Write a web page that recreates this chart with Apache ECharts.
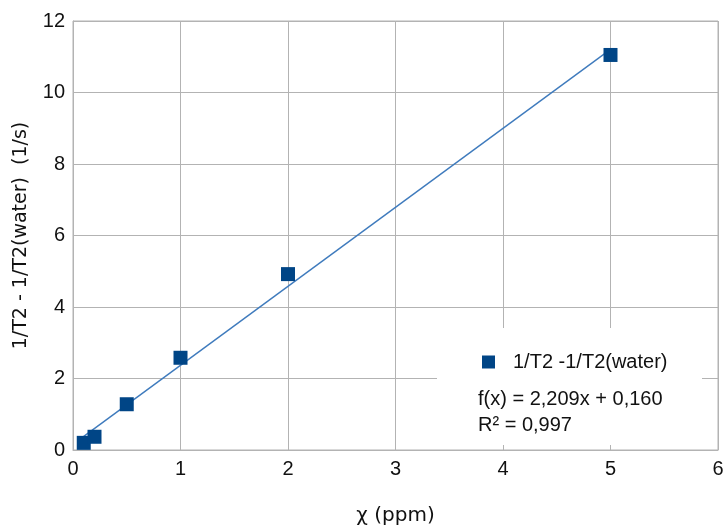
<!DOCTYPE html>
<html>
<head>
<meta charset="utf-8">
<script src="https://cdn.jsdelivr.net/npm/echarts@6/dist/echarts.min.js"></script>
<style>html,body{margin:0;padding:0;background:#fff}#c{width:726px;height:528px}</style>
</head>
<body>
<div id="c"></div>
<script>
const seriesName = '1/T2 -1/T2(water)';
const chiValues = [0.1, 0.2, 0.5, 1, 2, 5];
const rateValues = [0.2, 0.37, 1.28, 2.58, 4.92, 11.05];
const trendX = [0.1, 5];
const trendY = [0.381, 11.205];
const equationText = 'f(x) = 2,209x + 0,160';
const r2Text = 'R² = 0,997';
const xTicks = [0, 1, 2, 3, 4, 5, 6];
const yTicks = [0, 2, 4, 6, 8, 10, 12];

const FONT = '"Liberation Sans", Arial, sans-serif';
const NAMEFONT = '"DejaVu Sans", sans-serif';
const chart = echarts.init(document.getElementById('c'));
chart.setOption({
  animation: false,
  backgroundColor: '#fff',
  textStyle: {fontFamily: FONT},
  grid: {left: 73, top: 21, right: 8, bottom: 78, show: true, borderColor: '#b3b3b3', borderWidth: 1,
         containLabel: false, outerBoundsMode: 'none'},
  xAxis: {
    type: 'value', min: xTicks[0], max: xTicks[xTicks.length - 1], interval: 1,
    name: 'χ (ppm)', nameLocation: 'middle', nameGap: 56,
    nameTextStyle: {fontSize: 20, color: '#111', fontFamily: NAMEFONT},
    axisLine: {show: true, lineStyle: {color: '#b3b3b3'}},
    axisTick: {show: false},
    axisLabel: {fontSize: 20, color: '#111', margin: 9, fontFamily: FONT},
    splitLine: {show: true, lineStyle: {color: '#b3b3b3', width: 1}}
  },
  yAxis: {
    type: 'value', min: yTicks[0], max: yTicks[yTicks.length - 1], interval: 2,
    name: '1/T2 - 1/T2(water)  (1/s)', nameLocation: 'middle', nameGap: 42,
    nameTextStyle: {fontSize: 19, color: '#111', fontFamily: NAMEFONT},
    axisLine: {show: true, lineStyle: {color: '#b3b3b3'}},
    axisTick: {show: false},
    axisLabel: {fontSize: 20, color: '#111', margin: 8, fontFamily: FONT},
    splitLine: {show: true, lineStyle: {color: '#b3b3b3', width: 1}}
  },
  legend: {
    data: [{name: seriesName, icon: 'rect'}],
    left: 477, top: 347, itemWidth: 13, itemHeight: 13,
    textStyle: {fontSize: 20, color: '#111', fontFamily: FONT, padding: [0, 0, 0, 13]},
    z: 10
  },
  graphic: [
    {type: 'rect', shape: {x: 437, y: 328, width: 265, height: 117}, style: {fill: '#fff'}, z: 5},
    {type: 'text', left: 478, top: 389, z: 11, style: {text: equationText, font: '20px ' + FONT, fill: '#111'}},
    {type: 'text', left: 478, top: 415, z: 11, style: {text: r2Text, font: '20px ' + FONT, fill: '#111'}}
  ],
  series: [
    {
      name: 'trend', type: 'line', data: trendX.map((x, i) => [x, trendY[i]]),
      symbol: 'none', lineStyle: {color: '#3f7bbd', width: 1.4}, z: 2, silent: true
    },
    {
      name: seriesName, type: 'scatter', data: chiValues.map((x, i) => [x, rateValues[i]]),
      symbol: 'rect', symbolSize: 14, itemStyle: {color: '#004586', opacity: 1}, z: 3
    }
  ]
});
</script>
</body>
</html>
